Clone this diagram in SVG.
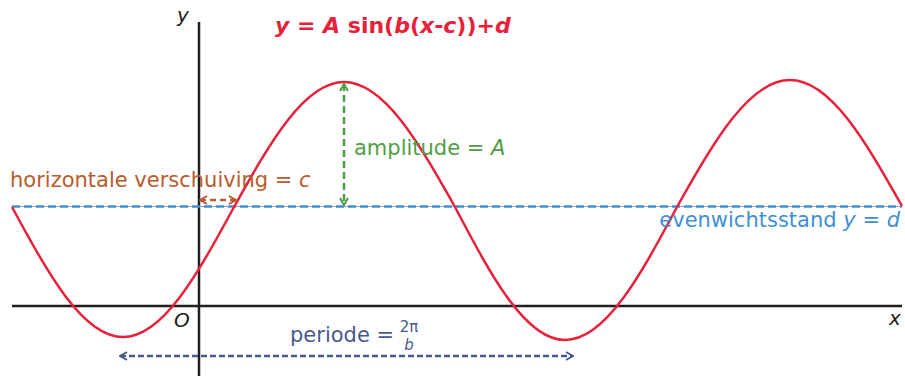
<svg xmlns="http://www.w3.org/2000/svg" width="905" height="376" viewBox="0 0 905 376">
<style>
text{font-family:"DejaVu Sans","Verdana","Liberation Sans",sans-serif;}
.ax{stroke:#231f20;stroke-width:2.5;fill:none;}
.lbl{font-size:21px;}
.it{font-style:italic;}
</style>
<defs>
<marker id="ag" viewBox="0 0 10 10" refX="9" refY="5" markerWidth="10" markerHeight="10" markerUnits="userSpaceOnUse" orient="auto-start-reverse"><path d="M2,1 L9,5 L2,9" fill="none" stroke="#4f9e45" stroke-width="2"/></marker>
<marker id="ab" viewBox="0 0 10 10" refX="9" refY="5" markerWidth="10" markerHeight="10" markerUnits="userSpaceOnUse" orient="auto-start-reverse"><path d="M2,1 L9,5 L2,9" fill="none" stroke="#b95b2c" stroke-width="2"/></marker>
<marker id="an" viewBox="0 0 10 10" refX="9" refY="5" markerWidth="10" markerHeight="10" markerUnits="userSpaceOnUse" orient="auto-start-reverse"><path d="M2,1 L9,5 L2,9" fill="none" stroke="#475a8c" stroke-width="2"/></marker>
</defs>
<g id="axes">
<line class="ax" x1="12" y1="306" x2="902" y2="306"/>
<line class="ax" x1="199" y1="22" x2="199" y2="376"/>
<text x="177" y="22" font-size="20" class="it" fill="#231f20">y</text>
<text x="889" y="325" font-size="20" class="it" fill="#231f20">x</text>
<text x="174" y="327" font-size="20" class="it" fill="#231f20">O</text>
</g>
<g id="equilibrium">
<line x1="12" y1="206.5" x2="902" y2="206.5" stroke="#9aa4b0" stroke-width="1"/>
<line x1="12" y1="206.5" x2="902" y2="206.5" stroke="#3f8fd6" stroke-width="2.5" stroke-dasharray="8 4"/>
</g>
<g id="curve">
<path d="M12,207 C48.2,273.6 82.8,337 123,337 C163.2,337 197.8,273.6 234,207 C269.9,143 304.2,82 344,82 C384.2,82 418.8,143 455,207 C490.9,275.1 525.2,340 565,340 C605.5,340 640.5,275.1 677,207 C713.8,141.9 749.1,80 790,80 C830.5,80 865.5,141.5 902,206" fill="none" stroke="#e8203a" stroke-width="2.5"/>
</g>
<g id="connectors">
<line x1="344" y1="84" x2="344" y2="205" stroke="#4f9e45" stroke-width="2.5" stroke-dasharray="7 4" marker-start="url(#ag)" marker-end="url(#ag)"/>
<line x1="200" y1="200" x2="236" y2="200" stroke="#b95b2c" stroke-width="2.5" stroke-dasharray="6 4" marker-start="url(#ab)" marker-end="url(#ab)"/>
<line x1="120" y1="356" x2="573" y2="356" stroke="#475a8c" stroke-width="2.5" stroke-dasharray="6 3" marker-start="url(#an)" marker-end="url(#an)"/>
</g>
<g id="title">
<text x="275" y="33" font-size="22" font-weight="bold" fill="#e8203a"><tspan class="it">y</tspan> = <tspan class="it">A</tspan> sin(<tspan class="it">b</tspan>(<tspan class="it">x</tspan>-<tspan class="it">c</tspan>))+<tspan class="it">d</tspan></text>
</g>
<g id="amplitude">
<text x="354" y="155" class="lbl" fill="#4f9e45">amplitude = <tspan class="it">A</tspan></text>
</g>
<g id="shift">
<text x="10" y="187" class="lbl" fill="#b95b2c">horizontale verschuiving = <tspan class="it">c</tspan></text>
</g>
<g id="evenwicht">
<text x="900" y="227" class="lbl" fill="#3f8fd6" text-anchor="end">evenwichtsstand <tspan class="it">y</tspan> = <tspan class="it">d</tspan></text>
</g>
<g id="periode">
<text x="290" y="342" class="lbl" fill="#475a8c">periode =</text>
<text x="409" y="332" font-size="15" fill="#475a8c" text-anchor="middle">2π</text>
<text x="409" y="350" font-size="15" class="it" fill="#475a8c" text-anchor="middle">b</text>
</g>
</svg>
